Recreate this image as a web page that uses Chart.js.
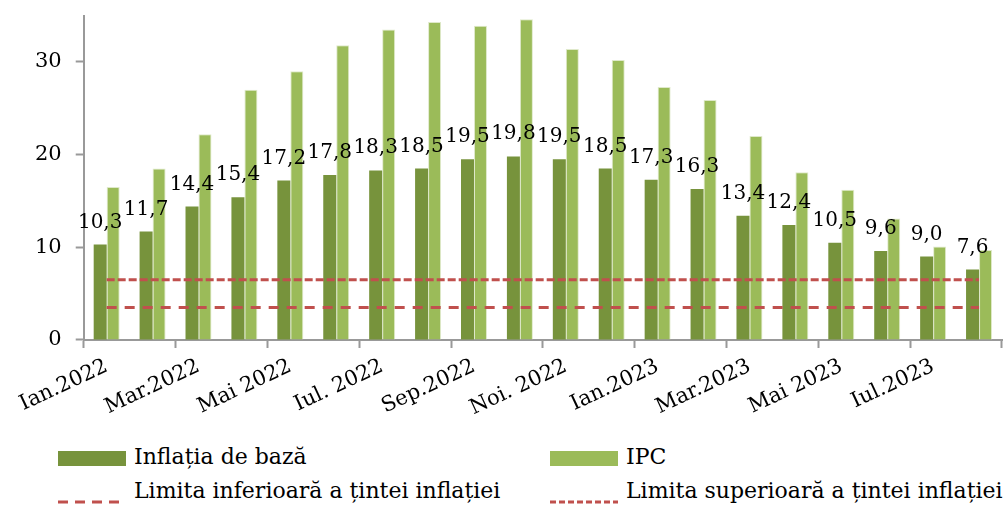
<!DOCTYPE html>
<html><head><meta charset="utf-8">
<script src="https://cdn.jsdelivr.net/npm/chart.js@4.4.0/dist/chart.umd.min.js"></script>
<style>
html,body{margin:0;padding:0;background:#fff;}
#wrap{position:relative;width:1008px;height:506px;overflow:hidden;}
#c{position:absolute;left:0;top:-11px;}
.lg{position:absolute;font-family:"DejaVu Serif",serif;font-size:22px;color:#000;line-height:24px;white-space:nowrap;}
.sw{position:absolute;}
</style></head><body>
<div id="wrap"><canvas id="c" width="1008" height="445"></canvas><div id="legend"></div>
</div>
<script>
const categories = ['Ian.2022','Feb.2022','Mar.2022','Apr.2022','Mai 2022','Iun.2022','Iul. 2022','Aug.2022','Sep.2022','Oct.2022','Noi. 2022','Dec.2022','Ian.2023','Feb.2023','Mar.2023','Apr.2023','Mai 2023','Iun.2023','Iul.2023','Aug.2023'];
const coreInflation = [10.3,11.7,14.4,15.4,17.2,17.8,18.3,18.5,19.5,19.8,19.5,18.5,17.3,16.3,13.4,12.4,10.5,9.6,9.0,7.6];
const cpi = [16.5,18.5,22.2,27.0,29.0,31.8,33.5,34.3,33.9,34.6,31.4,30.2,27.3,25.9,22.0,18.1,16.2,13.1,10.1,9.7];
const lowerLimit = [3.5,3.5,3.5,3.5,3.5,3.5,3.5,3.5,3.5,3.5,3.5,3.5,3.5,3.5,3.5,3.5,3.5,3.5,3.5,3.5];
const upperLimit = [6.5,6.5,6.5,6.5,6.5,6.5,6.5,6.5,6.5,6.5,6.5,6.5,6.5,6.5,6.5,6.5,6.5,6.5,6.5,6.5];
const yTicks = [0,10,20,30];
const seriesNames = ['Inflația de bază','IPC','Limita inferioară a țintei inflației','Limita superioară a țintei inflației'];

const FONT = '"DejaVu Serif", serif';
const AXIS = '#999999';
const DARK = '#77933C', LIGHT = '#9BBB59', RED = '#C0504D';

const valueLabels = {
  id: 'valueLabels',
  afterDatasetsDraw(chart) {
    const meta = chart.getDatasetMeta(0);
    const ctx = chart.ctx;
    ctx.save();
    ctx.font = '20px ' + FONT;
    ctx.fillStyle = '#000';
    ctx.textAlign = 'center';
    ctx.textBaseline = 'alphabetic';
    meta.data.forEach((bar, i) => {
      ctx.fillText(coreInflation[i].toFixed(1).replace('.', ','), bar.x, bar.y - 17);
    });
    ctx.restore();
  }
};

const chart = new Chart(document.getElementById('c'), {
  type: 'bar',
  data: {
    labels: categories,
    datasets: [
      {label: seriesNames[0], data: coreInflation, backgroundColor: DARK, categoryPercentage: 0.566, barPercentage: 1, order: 2},
      {label: seriesNames[1], data: cpi, backgroundColor: LIGHT, borderColor: 'rgba(215,228,189,0.8)', borderWidth: {left: 1, top: 1, right: 1, bottom: 0}, categoryPercentage: 0.566, barPercentage: 1, order: 2},
      {type: 'line', label: seriesNames[2], data: lowerLimit, borderColor: RED, borderWidth: 3, borderDash: [10, 8], pointRadius: 0, fill: false, order: 0},
      {type: 'line', label: seriesNames[3], data: upperLimit, borderColor: RED, borderWidth: 3, borderDash: [8, 3], pointRadius: 0, fill: false, order: 0}
    ]
  },
  options: {
    responsive: false,
    animation: false,
    layout: {padding: {left: 21, right: 6, top: 2, bottom: 7}},
    plugins: {legend: {display: false}, tooltip: {enabled: false}},
    scales: {
      x: {
        grid: {offset: true, drawOnChartArea: false, tickLength: 8, tickWidth: 2,
          tickColor: (c) => (c.index === undefined || c.index % 2 === 0) ? AXIS : 'rgba(0,0,0,0)'},
        border: {color: AXIS, width: 2},
        ticks: {autoSkip: false, maxRotation: 25, minRotation: 25, padding: 6, color: '#000',
          font: {family: FONT, size: 21},
          callback: (v, i) => i % 2 === 0 ? categories[i] : ''}
      },
      y: {
        min: 0, max: 35,
        afterBuildTicks: (s) => { s.ticks = yTicks.map(v => ({value: v})); },
        grid: {drawOnChartArea: false, tickLength: 8, tickWidth: 2, tickColor: AXIS},
        border: {color: AXIS, width: 2},
        ticks: {padding: 14, color: '#000', font: {family: FONT, size: 21}}
      }
    }
  },
  plugins: [valueLabels]
});

// HTML legend built from the dataset labels
const lg = document.getElementById('legend');
const items = [
  {ds: 0, x: 58, y: 458, kind: 'box', color: DARK},
  {ds: 1, x: 550, y: 458, kind: 'box', color: LIGHT},
  {ds: 2, x: 58, y: 492, kind: 'line', dash: '10 7'},
  {ds: 3, x: 550, y: 492, kind: 'line', dash: '6 3'}
];
items.forEach(it => {
  const sw = document.createElement('div');
  sw.className = 'sw';
  if (it.kind === 'box') {
    sw.style.cssText = `left:${it.x}px;top:${it.y - 7}px;width:68px;height:15px;background:${it.color};`;
  } else {
    sw.style.cssText = `left:${it.x}px;top:${it.y - 2}px;width:68px;height:4px;`;
    sw.innerHTML = `<svg width="68" height="4"><line x1="0" y1="2" x2="68" y2="2" stroke="${RED}" stroke-width="3" stroke-dasharray="${it.dash}"/></svg>`;
  }
  lg.appendChild(sw);
  const t = document.createElement('div');
  t.className = 'lg';
  t.textContent = chart.data.datasets[it.ds].label;
  t.style.left = (it.x + 76) + 'px';
  t.style.top = (it.y - 13) + 'px';
  lg.appendChild(t);
});
</script>
</body></html>
